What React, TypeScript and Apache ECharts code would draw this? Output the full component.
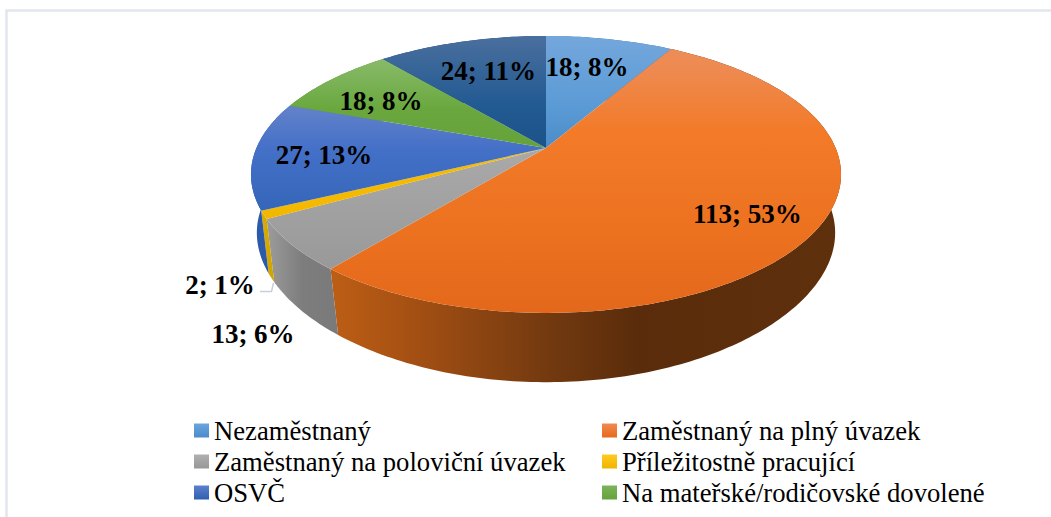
import React, { useEffect, useRef } from "react";
import * as echarts from "echarts";

const categories = [
  "Nezaměstnaný",
  "Zaměstnaný na plný úvazek",
  "Zaměstnaný na poloviční úvazek",
  "Příležitostně pracující",
  "OSVČ",
  "Na mateřské/rodičovské dovolené",
  "Ostatní",
];
const values = [18, 113, 13, 2, 27, 18, 24];
const percents = [8, 53, 6, 1, 13, 8, 11];

const FONT = '"Liberation Serif", "Times New Roman", serif';
const total = values.reduce((a, b) => a + b, 0);

// Perspective of the pie: top face and bottom rim of the wall.
const TOP = { cx: 546, y0: 148, k: 289.6, m: 133.4, c: -0.191, cu: -0.191 };
const BOTTOM = { cx: 546, y0: 209, k: 285, m: 135.6, c: -0.217, cu: -0.169 };
const project = (p: typeof TOP, a: number): [number, number] => {
  const u = Math.sin(a);
  const v = -Math.cos(a);
  return [p.cx + (p.k * u) / (1 + p.cu * v), p.y0 + (p.m * v) / (1 + p.c * v)];
};
const arc = (p: typeof TOP, a0: number, a1: number) => {
  const n = Math.max(4, Math.ceil(((a1 - a0) / (Math.PI * 2)) * 360));
  const pts: [number, number][] = [];
  for (let i = 0; i <= n; i++) pts.push(project(p, a0 + ((a1 - a0) * i) / n));
  return pts;
};
const startAngle = (i: number) =>
  (values.slice(0, i).reduce((a, b) => a + b, 0) / total) * Math.PI * 2;
const endAngle = (i: number) => startAngle(i) + (values[i] / total) * Math.PI * 2;

const G = echarts.graphic.LinearGradient;
const topGradients: [number, string][][] = [
  [[0, "#74a7dc"], [0.25, "#5b9bd5"], [0.41, "#4a8cc9"], [1, "#3f82bd"]],
  [[0, "#ec8f5c"], [0.12, "#ee8a50"], [0.35, "#f27a28"], [0.7, "#ec7220"], [1, "#e3681b"]],
  [[0, "#b5b5b5"], [0.41, "#a9a9a9"], [1, "#939393"]],
  [[0, "#ffc000"], [0.6, "#f4b900"], [1, "#e3ad00"]],
  [[0, "#7a95d6"], [0.27, "#6080c9"], [0.41, "#4470c8"], [0.63, "#3566b8"], [1, "#2b58a5"]],
  [[0, "#8fbf70"], [0.1, "#86b966"], [0.26, "#6aa83f"], [0.41, "#65a33a"]],
  [[0, "#4a6f9e"], [0.25, "#225a92"], [0.41, "#1b5289"], [1, "#1b5289"]],
];
const legendColors: [string, string][] = [
  ["#6aa5de", "#4a8cc9"],
  ["#f08a50", "#e8691c"],
  ["#b0b0b0", "#979797"],
  ["#ffcb20", "#f0b400"],
  ["#5f80cc", "#2f5fb0"],
  ["#7cb35c", "#65a33a"],
  ["#225a92", "#1b5289"],
];
const wallGradients: [number, string][][] = [
  [[0, "#3f82bd"], [1, "#2f6ca5"]],
  [[0, "#bd5e15"], [0.17, "#a34f13"], [0.42, "#743a10"], [0.6, "#5a2c0b"], [1, "#5f300c"]],
  [[0, "#9c9c9c"], [0.5, "#7d7d7d"], [1, "#7a7a7a"]],
  [[0, "#dcae00"], [1, "#cfa200"]],
  [[0, "#2c5aa8"], [1, "#2c5aa8"]],
  [[0, "#5a9135"], [1, "#5a9135"]],
  [[0, "#174a7c"], [1, "#174a7c"]],
];

const labelCenters: [number, number][] = [
  [587, 67],
  [747.5, 214],
  [253, 334],
  [220, 285],
  [324, 155],
  [381, 101],
  [488.5, 71],
];

const legendLeft = categories.filter((_, i) => i % 2 === 0 && i < 6);
const legendRight = categories.filter((_, i) => i % 2 === 1 && i < 6);

export default function App() {
  const ref = useRef<HTMLDivElement>(null);
  useEffect(() => {
    document.body.style.margin = "0";
    document.body.style.background = "#fff";
    const chart = echarts.init(ref.current!, undefined, { renderer: "svg" });

    const wallSeries = {
      type: "custom",
      coordinateSystem: "none",
      silent: true,
      z: 1,
      data: values,
      renderItem: (params: any) => {
        const i = params.dataIndex;
        const a0 = startAngle(i);
        const a1 = endAngle(i);
        const t = arc(TOP, a0, a1);
        const b = arc(BOTTOM, a0, a1).reverse();
        const xs = t.concat(b).map((p) => p[0]);
        return {
          type: "polygon",
          shape: { points: t.concat(b) },
          style: {
            fill: new G(Math.min(...xs), 0, Math.max(...xs), 0, wallGradients[i].map(([offset, color]) => ({ offset, color })), true),
          },
        };
      },
    };

    const topSeries = categories.map((name, i) => ({
      type: "custom",
      name,
      coordinateSystem: "none",
      silent: true,
      z: 2,
      itemStyle: {
        color: new G(0, 0, 0, 1, [
          { offset: 0, color: legendColors[i][0] },
          { offset: 1, color: legendColors[i][1] },
        ]),
      },
      data: [values[i]],
      renderItem: () => ({
        type: "polygon",
        shape: {
          points: [[TOP.cx, TOP.y0] as [number, number]].concat(arc(TOP, startAngle(i), endAngle(i))),
        },
        style: {
          fill: new G(0, 36, 0, 313, topGradients[i].map(([offset, color]) => ({ offset, color })), true),
        },
      }),
    }));

    const labelSeries = {
      type: "custom",
      coordinateSystem: "none",
      silent: true,
      z: 3,
      data: values,
      renderItem: (params: any) => {
        const i = params.dataIndex;
        const children: any[] = [
          {
            type: "text",
            style: {
              x: labelCenters[i][0],
              y: labelCenters[i][1],
              text: `${values[i]}; ${percents[i]}%`,
              font: `bold 27px ${FONT}`,
              fill: "#000",
              align: "center",
              verticalAlign: "middle",
            },
          },
        ];
        if (i === 3) {
          children.push({
            type: "polyline",
            shape: {
              points: [
                [260, 291.5],
                [271.5, 291.5],
                [273.5, 283],
              ],
            },
            style: { stroke: "#c5cfdf", lineWidth: 1.5, fill: "none" },
          });
        }
        return { type: "group", children };
      },
    };

    const legendBase = {
      orient: "vertical",
      selectedMode: false,
      itemWidth: 15,
      itemHeight: 14,
      itemGap: 0,
      padding: 0,
      icon: "rect",
      textStyle: { fontFamily: FONT, fontSize: 26.67, color: "#000", lineHeight: 31, height: 31 },
      top: 415,
    };

    chart.setOption({
      animation: false,
      backgroundColor: "#fff",
      graphic: [
        {
          type: "polyline",
          silent: true,
          z: 0,
          shape: {
            points: [
              [6.5, 517],
              [6.5, 10.5],
              [1051, 10.5],
            ],
          },
          style: { stroke: "#e2e6ee", lineWidth: 2.5, fill: "none" },
        },
      ],
      legend: [
        { ...legendBase, left: 194, data: legendLeft },
        { ...legendBase, left: 602, data: legendRight },
      ],
      series: [wallSeries, ...topSeries, labelSeries],
    });
    return () => chart.dispose();
  }, []);
  return <div ref={ref} style={{ width: 1051, height: 517 }} />;
}
